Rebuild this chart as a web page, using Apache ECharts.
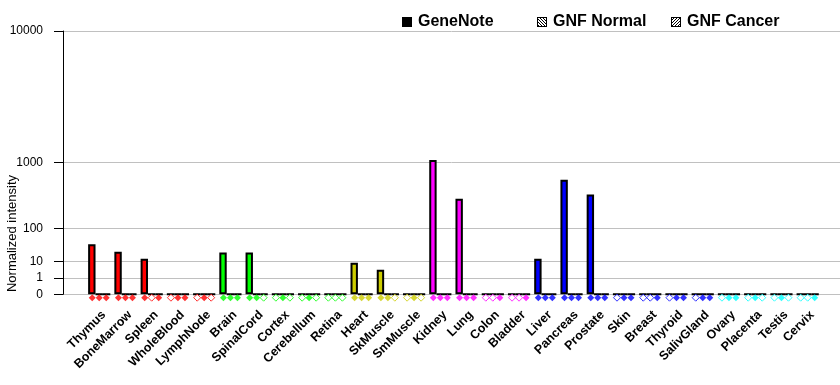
<!DOCTYPE html>
<html>
<head>
<meta charset="utf-8">
<script src="https://cdn.jsdelivr.net/npm/echarts@6/dist/echarts.min.js"></script>
<style>
html,body{margin:0;padding:0;background:#fff;}
#chart{width:840px;height:385px;}
</style>
</head>
<body>
<div id="chart"></div>
<script>
// ---- data ----
const categories = ['Thymus','BoneMarrow','Spleen','WholeBlood','LymphNode','Brain','SpinalCord','Cortex','Cerebellum','Retina','Heart','SkMuscle','SmMuscle','Kidney','Lung','Colon','Bladder','Liver','Pancreas','Prostate','Skin','Breast','Thyroid','SalivGland','Ovary','Placenta','Testis','Cervix'];
const geneNote  = [40, 23.5, 13, 0, 0, 22, 22, 0, 0, 0, 8.7, 3.8, 0, 1070, 345, 0, 0, 13, 630, 400, 0, 0, 0, 0, 0, 0, 0, 0];
const gnfNormal = [0, 0, 0, 0, 0, 0, 0, 0, 0, 0, 0, 0, 0, 0, 0, 0, 0, 0, 0, 0, 0, 0, 0, 0, 0, 0, 0, 0];
const gnfCancer = [0, 0, 0, 0, 0, 0, 0, 0, 0, 0, 0, 0, 0, 0, 0, 0, 0, 0, 0, 0, 0, 0, 0, 0, 0, 0, 0, 0];
// presence markers (1 = filled diamond, 0 = open diamond)
const geneNoteCall  = [1,1,1,0,0,1,1,0,0,0,1,1,0,1,1,0,0,1,1,1,0,0,0,0,0,0,0,0];
const gnfNormalCall = [1,1,0,1,1,1,1,1,1,0,1,1,1,1,1,0,0,1,1,1,1,0,1,1,1,1,1,0];
const gnfCancerCall = [1,1,1,1,0,1,0,0,0,0,1,0,0,1,1,1,1,1,1,1,1,1,1,1,1,0,0,1];
const yTickValues = [0, 1, 10, 100, 1000, 10000];
const yTickLabels = ['0', '1', '10', '100', '1000', '10000'];
const seriesNames = ['GeneNote', 'GNF Normal', 'GNF Cancer'];

// ---- styles ----
const RED='#FF0000', GRN='#00FF00', YEL='#CCCC00', MAG='#FF00FF', BLU='#0000FF', CYN='#00FFFF';
const tissueColors = [RED,RED,RED,RED,RED, GRN,GRN,GRN,GRN,GRN, YEL,YEL,YEL, MAG,MAG,MAG,MAG, BLU,BLU,BLU,BLU,BLU,BLU,BLU, CYN,CYN,CYN,CYN];
const FONT = '"Liberation Sans", Arial, sans-serif';

// power scale: 1->1, 10->2, 100->4, 1000->8, 10000->16
const EXP = Math.log10(2);
const tf = v => Math.pow(v, EXP);
const yMax = tf(10000);

function hatchIcon(dir) {
  const c = document.createElement('canvas');
  c.width = 10; c.height = 10;
  const g = c.getContext('2d');
  g.fillStyle = '#fff'; g.fillRect(0,0,10,10);
  g.fillStyle = '#000';
  for (let y = 0; y < 10; y++) for (let x = 0; x < 10; x++) {
    const border = x===0||y===0||x===9||y===9;
    const d = dir > 0 ? (x + y) : (x - y + 10);
    if (border || d % 3 === 0) g.fillRect(x,y,1,1);
  }
  return 'image://' + c.toDataURL();
}

const chart = echarts.init(document.getElementById('chart'), null, {renderer:'canvas'});

const gridTop = 31, gridBottom = 90.7;

const barStyle = {borderColor:'#000', borderWidth:2};
const slots = [geneNote, gnfNormal, gnfCancer];
const calls = [geneNoteCall, gnfNormalCall, gnfCancerCall];
const offsets = [-7, 0, 7];

const series = [];
slots.forEach((vals, s) => {
  series.push({
    name: seriesNames[s], type:'bar', xAxisIndex:1, yAxisIndex:1,
    barWidth: 7.4, barGap:'0%',
    itemStyle: Object.assign({color:'#000'}, barStyle),
    data: vals.map((v,i) => ({value: tf(v), itemStyle:{color: tissueColors[i]}})),
    animation:false, silent:true
  });
});
calls.forEach((flags, s) => {
  series.push({
    name: seriesNames[s] + ' call', type:'scatter', xAxisIndex:1, yAxisIndex:1,
    symbol:'diamond', symbolSize:7, symbolOffset:[offsets[s], 3.4], clip:false, z:5,
    data: flags.map((f,i) => ({value:[i, 0], itemStyle: f ? {color: tissueColors[i]} : {color:'#fff', borderColor: tissueColors[i], borderWidth:1}})),
    animation:false, silent:true
  });
});

const legendCommon = {top: 9, itemWidth: 10, itemHeight: 10, selectedMode:false,
  textStyle:{fontFamily:FONT, fontSize:16, fontWeight:'bold', color:'#000', padding:[0,0,0,1]}};

chart.setOption({
  animation:false,
  legend: [
    Object.assign({left:397, data:[{name:'GeneNote', icon:'rect', itemStyle:{color:'#000', borderWidth:0}}]}, legendCommon),
    Object.assign({left:532, data:[{name:'GNF Normal', icon:hatchIcon(-1)}]}, legendCommon),
    Object.assign({left:666, data:[{name:'GNF Cancer', icon:hatchIcon(1)}]}, legendCommon)
  ],
  grid: [
    {left:63, right:0, top:gridTop, bottom:gridBottom},
    {left:86.1, right:19.2, top:gridTop, bottom:gridBottom}
  ],
  xAxis: [
    {type:'value', gridIndex:0, show:false, min:0, max:1},
    {type:'category', gridIndex:1, data:categories,
     axisLine:{show:false}, axisTick:{show:false},
     axisLabel:{interval:0, rotate:45, margin:14, verticalAlign:'top', fontFamily:FONT, fontSize:12.5, fontWeight:'bold', color:'#000'}}
  ],
  yAxis: [
    {type:'value', gridIndex:0, min:0, max:yMax, interval:1,
     axisLine:{show:true, lineStyle:{color:'#000', width:1}},
     axisTick:{show:true, length:9, lineStyle:{color:'#000'}, customValues: yTickValues.map(tf)},
     axisLabel:{margin:20, fontFamily:FONT, fontSize:12, color:'#000', customValues: yTickValues.map(tf),
       formatter: v => { const k = yTickValues.map(tf).findIndex(t => Math.abs(t - v) < 1e-6); return k >= 0 ? yTickLabels[k] : ''; }},
     splitLine:{show:true, lineStyle:{color:'#c0c0c0', width:1}}},
    {type:'value', gridIndex:1, min:0, max:yMax, show:false, splitLine:{show:false}}
  ],
  graphic: [{
    type:'text', left:6, top:175, rotation:Math.PI/2, z:10,
    style:{text:'Normalized intensity', fontFamily:FONT, fontSize:13, fill:'#000'}
  }],
  series: series
});
</script>
</body>
</html>
